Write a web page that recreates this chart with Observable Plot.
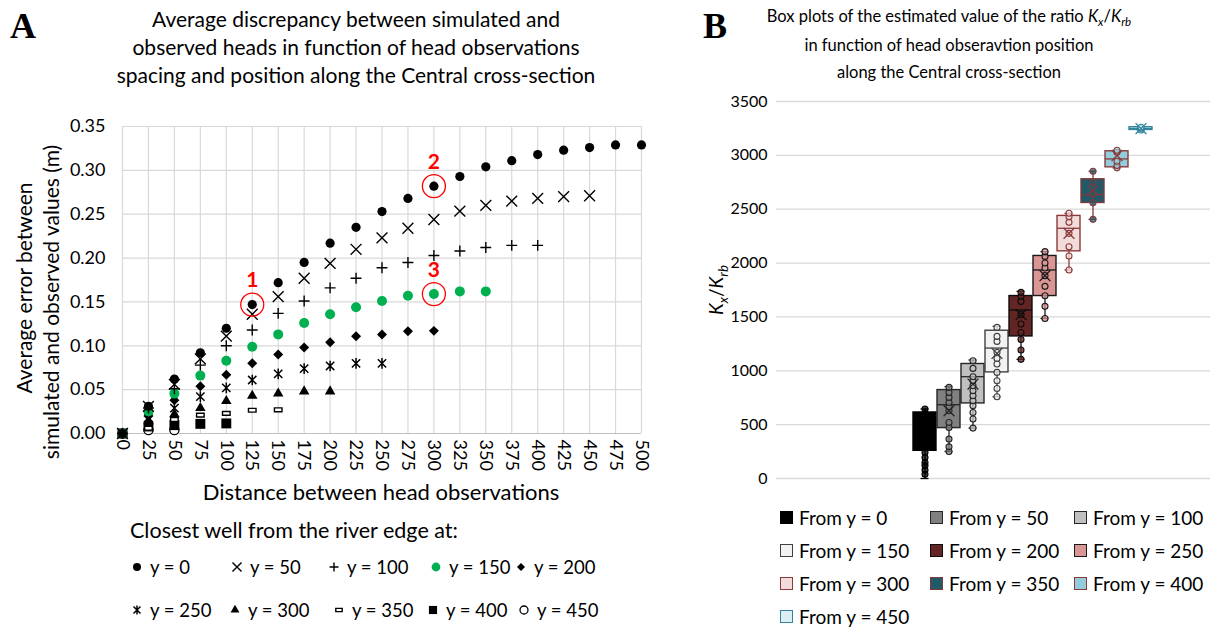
<!DOCTYPE html>
<html><head><meta charset="utf-8">
<script src="https://cdn.jsdelivr.net/npm/d3@7"></script>
<script src="https://cdn.jsdelivr.net/npm/@observablehq/plot@0.6"></script>
<style>
body{margin:0;background:#fff;font-family:Lato,"Open Sans",sans-serif;color:#000;}
#root{position:relative;width:1221px;height:629px;overflow:hidden;background:#fff;}
.abs{position:absolute;white-space:nowrap;line-height:1;}
.c{transform:translate(-50%,-50%);}
.l{transform:translate(0,-50%);}
.panel{position:absolute;top:0;}
svg{overflow:visible;}
</style></head><body><div id="root"></div>
<script>
// ---------------- Panel A data ----------------
const distances = [0,25,50,75,100,125,150,175,200,225,250,275,300,325,350,375,400,425,450,475,500];
const errorTicks = [0,0.05,0.10,0.15,0.20,0.25,0.30,0.35];
const seriesA = ["y = 0","y = 50","y = 100","y = 150","y = 200","y = 250","y = 300","y = 350","y = 400","y = 450"];
const err_y0   = [0,0.031,0.062,0.092,0.120,0.147,0.172,0.195,0.217,0.235,0.253,0.268,0.282,0.293,0.304,0.311,0.318,0.323,0.326,0.329,0.329];
const err_y50  = [0,0.031,0.056,0.085,0.111,0.136,0.156,0.177,0.194,0.210,0.223,0.234,0.244,0.2535,0.260,0.265,0.268,0.270,0.271];
const err_y100 = [0,0.029,0.051,0.078,0.100,0.118,0.137,0.151,0.166,0.177,0.189,0.195,0.203,0.208,0.212,0.2145,0.2145];
const err_y150 = [0,0.025,0.0455,0.066,0.083,0.099,0.113,0.126,0.136,0.144,0.151,0.157,0.159,0.162,0.162];
const err_y200 = [0,0.020,0.038,0.054,0.067,0.080,0.090,0.098,0.104,0.111,0.113,0.1165,0.117];
const err_y250 = [0,0.018,0.029,0.042,0.052,0.061,0.068,0.074,0.077,0.080,0.080];
const err_y300 = [0,0.014,0.022,0.029,0.037,0.043,0.0455,0.048,0.048];
const err_y350 = [0,0.006,0.016,0.021,0.023,0.0265,0.027];
const err_y400 = [0,0.008,0.0095,0.011,0.0115];
const err_y450 = [0,0.004,0.004];
const errorsA = [err_y0,err_y50,err_y100,err_y150,err_y200,err_y250,err_y300,err_y350,err_y400,err_y450];
const annotLabels = ["1","2","3"];
const annotSeries = [0,0,3];
const annotDistance = [125,300,300];

// ---------------- Panel B data ----------------
const boxSeries = ["From y = 0","From y = 50","From y = 100","From y = 150","From y = 200","From y = 250","From y = 300","From y = 350","From y = 400","From y = 450"];
const ratioTicks = [0,500,1000,1500,2000,2500,3000,3500];
const boxQ1     = [257,468,697,985,1319,1694,2109,2558,2889,3236];
const boxMedian = [450,685,945,1211,1564,1936,2323,2636,2967,3249];
const boxQ3     = [613,821,1063,1372,1694,2066,2438,2778,3038,3261];
const boxMin    = [0,251,468,759,1106,1486,1936,2406,2884,3236];
const boxMax    = [645,852,1100,1412,1737,2106,2462,2852,3047,3261];
const boxMean   = [420,629,877,1161,1521,1883,2276,2673,2998,3249];
const boxPoints = [
  [40,78,120,149,195,242,330,420,510,600,645],
  [251,294,366,474,520,629,666,706,753,799,846],
  [468,552,613,675,722,768,815,861,908,945,1022,1093],
  [759,836,908,985,1063,1115,1171,1273,1319,1403],
  [1106,1193,1291,1356,1434,1521,1644,1691,1728],
  [1486,1598,1697,1784,1883,1954,2001,2062,2106],
  [1936,2066,2152,2276,2378,2431,2462],
  [2406,2561,2642,2747,2852],
  [2884,2905,2945,3029,3047],
  [3236,3249,3261]
];

// ---------------- styles ----------------
const symbolDash = {draw(ctx, size){ const w = Math.sqrt(size)*0.95, h = w*0.5; ctx.rect(-w/2,-h/2,w,h); }};
const symbolStarX = {draw(ctx, size){ const r = Math.sqrt(size)*0.6; const a = r*0.78;
  ctx.moveTo(-a,-a); ctx.lineTo(a,a); ctx.moveTo(a,-a); ctx.lineTo(-a,a); ctx.moveTo(0,-r); ctx.lineTo(0,r); }};
const styleA = [
  {symbol:"circle",   r:4.6, fill:"#000", stroke:"none"},
  {symbol:"times",    r:5,   fill:"none", stroke:"#000", sw:1.4},
  {symbol:"plus",     r:3.6, fill:"none", stroke:"#000", sw:1.4},
  {symbol:"circle",   r:5,   fill:"#00b050", stroke:"none"},
  {symbol:"diamond2", r:4.5, fill:"#000", stroke:"none"},
  {symbol:symbolStarX,r:5,   fill:"none", stroke:"#000", sw:1.5},
  {symbol:"triangle", r:3.9, fill:"#000", stroke:"none"},
  {symbol:symbolDash, r:4.5, fill:"#fff", stroke:"#000", sw:1.4},
  {symbol:"square",   r:5.6, fill:"#000", stroke:"none"},
  {symbol:"circle",   r:4.6, fill:"#fff", stroke:"#000", sw:1.3}
];
const boxFill   = ["#000000","#808080","#c0c0c0","#f2f2f2","#632523","#da9694","#f2dcdb","#215968","#93cddd","#dbeef4"];
const boxStroke = ["#000000","#262626","#262626","#404040","#0d0d0d","#1a1a1a","#8b3a3a","#7f3b3b","#8b3a3a","#31859c"];

const root = document.getElementById("root");
function addText(html, x, y, cls, css){
  const d = document.createElement("div");
  d.className = "abs " + cls;
  d.innerHTML = html;
  d.style.left = x + "px"; d.style.top = y + "px";
  Object.assign(d.style, css || {});
  root.appendChild(d);
  return d;
}

// ---------------- Panel A ----------------
const rowsA = seriesA.flatMap((s,k) => errorsA[k].map((v,i) => ({series:s, k, distance:distances[i], error:v})));
const annots = annotLabels.map((lab,j) => ({label:lab, distance:annotDistance[j], error:errorsA[annotSeries[j]][distances.indexOf(annotDistance[j])]}));

const dotMarks = [];
for (let k = seriesA.length - 1; k >= 0; k--) {
  const st = styleA[k];
  dotMarks.push(Plot.dot(rowsA.filter(d => d.k === k), {
    x:"distance", y:"error", symbol: st.symbol, r: st.r,
    fill: st.fill, stroke: st.stroke, strokeWidth: st.sw || 1
  }));
}

const plotA = Plot.plot({
  width: 650, height: 500,
  marginLeft: 122, marginRight: 9, marginTop: 126, marginBottom: 67,
  x: {domain:[0,500]},
  y: {domain:[0,0.35]},
  style: {fontFamily:"Lato, sans-serif", fontSize:"18px", color:"#000", background:"transparent", overflow:"visible"},
  marks: [
    Plot.gridX(distances, {stroke:"#d9d9d9", strokeOpacity:1, strokeWidth:1.2}),
    Plot.gridY(errorTicks, {stroke:"#d9d9d9", strokeOpacity:1, strokeWidth:1.2}),
    Plot.ruleY([0], {stroke:"#bfbfbf", strokeWidth:1.2}),
    ...dotMarks,
    Plot.dot(annots, {x:"distance", y:"error", r:11.5, fill:"none", stroke:"#ff0000", strokeWidth:1.3}),
    Plot.text(annots, {x:"distance", y:"error", text:"label", dy:-24, fill:"#ff0000", fontWeight:"bold", fontSize:21}),
    Plot.axisY(errorTicks, {tickSize:0, tickPadding:17, tickFormat: d => d.toFixed(2), fontSize:18, label:null}),
    Plot.axisX(distances, {tickSize:0, tickRotate:90, tickPadding:6, fontSize:18, label:null})
  ]
});
const pa = document.createElement("div"); pa.className = "panel"; pa.style.left = "0px";
pa.appendChild(plotA); root.appendChild(pa);

// ---------------- Panel B ----------------
const boxes = boxSeries.map((s,i) => ({series:s, q1:boxQ1[i], median:boxMedian[i], q3:boxQ3[i], lo:boxMin[i], hi:boxMax[i], mean:boxMean[i], fill:boxFill[i], stroke:boxStroke[i]}));
const pts = boxSeries.flatMap((s,i) => boxPoints[i].map(v => ({series:s, value:v, fill:boxFill[i], stroke:boxStroke[i]})));

const plotB = Plot.plot({
  width: 571, height: 500,
  marginLeft: 126, marginRight: 11, marginTop: 101, marginBottom: 22,
  x: {type:"band", domain: boxSeries, range:[258, 506.4], padding:0.06, axis:null},
  y: {domain:[0,3500]},
  color: {type:"identity"},
  style: {fontFamily:"Lato, sans-serif", fontSize:"16px", color:"#000", background:"transparent", overflow:"visible"},
  marks: [
    Plot.gridY(ratioTicks, {stroke:"#d9d9d9", strokeOpacity:1, strokeWidth:1.3}),
    Plot.axisY(ratioTicks, {tickSize:0, tickPadding:9, fontSize:16, label:null, tickFormat: d => String(d)}),
    Plot.ruleX(boxes, {x:"series", y1:"lo", y2:"hi", stroke:"stroke", strokeWidth:1.3}),
    Plot.tickY(boxes, {x:"series", y:"lo", stroke:"stroke", strokeWidth:1.3, insetLeft:7.5, insetRight:7.5}),
    Plot.tickY(boxes, {x:"series", y:"hi", stroke:"stroke", strokeWidth:1.3, insetLeft:7.5, insetRight:7.5}),
    Plot.barY(boxes, {x:"series", y1:"q1", y2:"q3", fill:"fill", stroke:"stroke", strokeWidth:1.4}),
    Plot.tickY(boxes, {x:"series", y:"median", stroke:"stroke", strokeWidth:1.3}),
    Plot.dot(pts, {x:"series", y:"value", r:3, fill:"fill", fillOpacity:0.75, stroke:"stroke", strokeWidth:1.1}),
    Plot.dot(boxes, {x:"series", y:"mean", symbol:"times", r:5, stroke:"stroke", strokeWidth:1.3})
  ]
});
const pb = document.createElement("div"); pb.className = "panel"; pb.style.left = "650px";
pb.appendChild(plotB); root.appendChild(pb);

// ---------------- Text ----------------
addText("A", 10, 8, "", {fontFamily:"'Liberation Serif',serif", fontWeight:"bold", fontSize:"36px"});
addText("B", 703, 8, "", {fontFamily:"'Liberation Serif',serif", fontWeight:"bold", fontSize:"36px"});
const titleA = ["Average discrepancy between simulated and","observed heads in function of head observations","spacing and position along the Central cross-section"];
titleA.forEach((t,i) => addText(t, 356, 18 + i*28, "c", {fontSize:"21px"}));
const titleB = ["Box plots of the estimated value of the ratio <i>K<sub style='font-size:0.7em'>x</sub></i>/<i>K<sub style='font-size:0.7em'>rb</sub></i>","in function of head obseravtion position","along the Central cross-section"];
titleB.forEach((t,i) => addText(t, 949, 18 + i*27, "c", {fontSize:"16.5px"}));

addText("Distance between head observations", 381, 492, "c", {fontSize:"22px"});
addText("Average error between", 23, 288, "c", {fontSize:"21px", transform:"translate(-50%,-50%) rotate(-90deg)"});
addText("simulated and observed values (m)", 50, 302, "c", {fontSize:"21px", transform:"translate(-50%,-50%) rotate(-90deg)"});
addText("<i>K<sub style='font-size:0.7em'>x</sub></i>/<i>K<sub style='font-size:0.7em'>rb</sub></i>", 718, 290, "c", {fontSize:"19px", transform:"translate(-50%,-50%) rotate(-90deg)"});

// Legend A
addText("Closest well from the river edge at:", 130, 531, "l", {fontSize:"21.5px"});
const legAx = [137,237,334,436,521, 137,235,339,433,524];
const legAy = [567,567,567,567,567, 610,610,610,610,610];
const legSize = [4,4.2,3,4.4,3.6, 4.2,3.3,3.8,4.6,4];
const symMap = {circle:d3.symbolCircle,times:d3.symbolTimes,plus:d3.symbolPlus,diamond2:d3.symbolDiamond2,triangle:d3.symbolTriangle,square:d3.symbolSquare};
seriesA.forEach((s,k) => {
  const st = styleA[k];
  const symObj = typeof st.symbol === "string" ? symMap[st.symbol] : st.symbol;
  const path = d3.symbol(symObj, Math.PI*legSize[k]*legSize[k])();
  const svg = `<svg width="20" height="20" viewBox="-10 -10 20 20" style="position:absolute;left:${legAx[k]-10}px;top:${legAy[k]-10}px"><path d="${path}" fill="${st.fill}" stroke="${st.stroke}" stroke-width="${st.sw||1}"/></svg>`;
  root.insertAdjacentHTML("beforeend", svg);
  addText(s, legAx[k] + 13, legAy[k], "l", {fontSize:"18.5px"});
});

// Legend B
const legBx = [786,936,1080];
const legBy = [517,550,583,616];
boxSeries.forEach((s,i) => {
  const x = legBx[i % 3], y = legBy[Math.floor(i / 3)];
  root.insertAdjacentHTML("beforeend", `<div style="position:absolute;left:${x-6}px;top:${y-6}px;width:11px;height:11px;background:${boxFill[i]};border:1px solid ${boxStroke[i]}"></div>`);
  addText(s, x + 13, y, "l", {fontSize:"19px"});
});
</script></body></html>
